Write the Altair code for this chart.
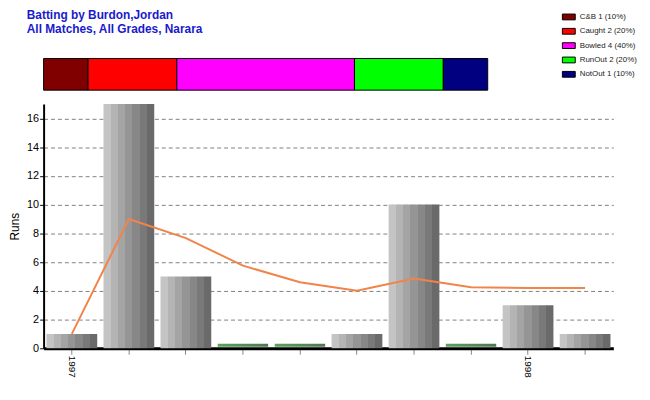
import altair as alt
import pandas as pd

# ---- data ----
innings = list(range(1, 11))
runs = [1, 17, 5, 0, 0, 1, 10, 0, 3, 1]
average = [1, 9, 7.67, 5.75, 4.6, 4.0, 4.86, 4.25, 4.2, 4.2]
tick_labels = ["1997", "", "", "", "", "", "", "", "1998", ""]

dismissals = ["C&B", "Caught", "Bowled", "RunOut", "NotOut"]
counts = [1, 2, 4, 2, 1]
percents = [10, 20, 40, 20, 10]
colors = ["#800000", "#ff0000", "#ff00ff", "#00ff00", "#000080"]

title_lines = ["Batting by Burdon,Jordan", "All Matches, All Grades, Narara"]

FONT = "Liberation Sans"

main_df = pd.DataFrame({"inn": innings, "runs": runs, "avg": average})
strip_labels = [f"{d} {c} ({p}%)" for d, c, p in zip(dismissals, counts, percents)]
strip_df = pd.DataFrame({"label": strip_labels, "count": counts,
                         "idx": list(range(len(counts))), "row": ["a"] * len(counts)})

label_expr = "[" + ",".join(f"'{t}'" for t in tick_labels) + "][datum.value - 1]"

# ---- styles ----
grey_stops = []
greys = ["#c4c4c4", "#b4b4b4", "#a4a4a4", "#959595", "#878787", "#797979", "#6a6a6a"]
n = len(greys)
for i, g in enumerate(greys):
    grey_stops.append(alt.GradientStop(offset=i / n, color=g))
    grey_stops.append(alt.GradientStop(offset=(i + 1) / n - 0.0001, color=g))
bar_fill = alt.Gradient(gradient="linear", stops=grey_stops, x1=0, x2=1, y1=0, y2=0)
green_fill = alt.Gradient(gradient="linear",
                          stops=[alt.GradientStop(offset=0, color="#137a13"),
                                 alt.GradientStop(offset=1, color="#033d03")],
                          x1=0, x2=1, y1=0, y2=0)

x_enc = alt.X("inn:O", title=None,
              scale=alt.Scale(paddingInner=0.11, paddingOuter=0.05),
              axis=alt.Axis(labelExpr=label_expr, labelAngle=90, labelAlign="left",
                            labelBaseline="middle", labelPadding=1, labelFontSize=10,
                            labelFont=FONT, labelColor="black",
                            domainColor="black", domainWidth=3,
                            tickColor="#888888", tickSize=6, grid=False))
y_scale = alt.Scale(domain=[0, 17], nice=False)
y_axis = alt.Axis(values=list(range(0, 17, 2)), title="Runs", titleFont=FONT,
                  titleFontSize=12, titleFontWeight="normal", titleColor="black",
                  titlePadding=5, labelFont=FONT, labelFontSize=11, labelColor="black",
                  labelPadding=1,
                  domainColor="black", domainWidth=2, tickColor="black", tickSize=4,
                  grid=True, gridDash=[4, 3], gridColor="#808080", gridWidth=1)

base = alt.Chart(main_df)
bars = base.transform_filter("datum.runs > 0").mark_bar(fill=bar_fill).encode(
    x=x_enc, y=alt.Y("runs:Q", scale=y_scale, axis=y_axis))
zeros = base.transform_filter("datum.runs == 0").mark_tick(
    fill=green_fill, color="#0a5a0a", thickness=3, size=51, yOffset=-3).encode(
    x=x_enc, y=alt.Y("runs:Q", scale=y_scale, axis=y_axis))
line = base.mark_line(color="#f0844a", strokeWidth=2).encode(
    x=x_enc, y=alt.Y("avg:Q", scale=y_scale, axis=y_axis))

main = alt.layer(bars, zeros, line).properties(width=576, height=247)

strip = alt.Chart(strip_df).mark_bar(stroke="black", strokeWidth=1).encode(
    x=alt.X("count:Q", stack="normalize", axis=None, scale=alt.Scale(nice=False)),
    y=alt.Y("row:N", axis=None, scale=alt.Scale(paddingInner=0, paddingOuter=0)),
    color=alt.Color("label:N", sort=strip_labels,
                    scale=alt.Scale(domain=strip_labels, range=colors),
                    legend=alt.Legend(title=title_lines, titleOrient="left",
                                      titleAnchor="start", titleBaseline="top",
                                      titleFont=FONT, titleFontSize=12, titleFontWeight="bold",
                                      titleColor="#1a1acc", titleLineHeight=14,
                                      titleLimit=400, titlePadding=362,
                                      orient="none", legendX=-17, legendY=-49,
                                      labelFont=FONT, labelFontSize=8, labelColor="#222222",
                                      symbolType="M-1,-0.45H1V0.45H-1Z", symbolSize=169,
                                      symbolStrokeColor="black", symbolStrokeWidth=1,
                                      symbolOpacity=1, rowPadding=2.5, labelOffset=4)),
    order=alt.Order("idx:Q"),
).properties(width=449, height=32)

chart = alt.vconcat(strip, main, spacing=13).properties(
    padding={"left": 0, "top": 0, "right": 5, "bottom": 0},
    background="white",
).configure_view(stroke=None)

chart.save("out.html", embed_options={"renderer": "svg", "actions": False})
